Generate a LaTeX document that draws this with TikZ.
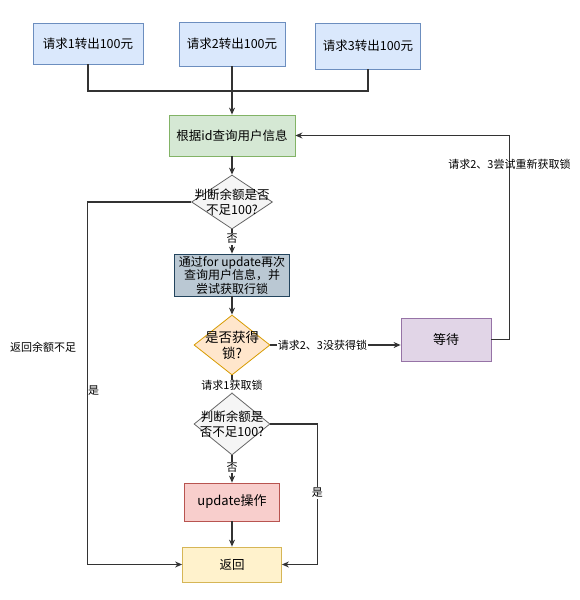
\documentclass[tikz,border=0pt]{standalone}
\usepackage{fontspec}
\setmainfont{Noto Sans CJK SC}
\usetikzlibrary{arrows.meta,shapes.geometric}
\definecolor{lineC}{HTML}{333333}
\tikzset{
  box/.style={draw=#1, line width=0.8pt, minimum height=40pt, inner sep=2pt, align=center, font=\fontsize{12.5}{14}\selectfont},
  dia/.style={diamond, draw=#1, line width=0.8pt, inner sep=0pt},
  dtext/.style={align=center, font=\fontsize{12.5}{15}\selectfont},
  conn/.style={draw=lineC, line width=1.1pt},
  arr/.style={conn, -{Stealth[length=7pt,width=6pt]}},
  lab/.style={font=\fontsize{11}{13}\selectfont, text=black, inner sep=1pt},
  wlab/.style={lab, fill=white},
}
\begin{document}
\begin{tikzpicture}[x=1pt,y=-1pt]
\useasboundingbox (0,0) rectangle (579,600);
% top request boxes
\node[box=blue, fill={rgb,255:red,218;green,232;blue,252}, draw={rgb,255:red,108;green,142;blue,191}, minimum width=110pt, minimum height=41pt] (b1) at (88,43.5) {请求1转出100元};
\node[box=blue, fill={rgb,255:red,218;green,232;blue,252}, draw={rgb,255:red,108;green,142;blue,191}, minimum width=106pt, minimum height=44pt] (b2) at (232,44) {请求2转出100元};
\node[box=blue, fill={rgb,255:red,218;green,232;blue,252}, draw={rgb,255:red,108;green,142;blue,191}, minimum width=105pt, minimum height=46pt] (b3) at (368,46) {请求3转出100元};
% green
\node[box=green, fill={rgb,255:red,213;green,232;blue,212}, draw={rgb,255:red,130;green,179;blue,102}, minimum width=126pt, minimum height=41pt] (q) at (232,135.5) {根据id查询用户信息};
% diamond 1
\node[dia=gray, fill={rgb,255:red,245;green,245;blue,245}, draw={rgb,255:red,102;green,102;blue,102}, minimum width=81pt, minimum height=54pt,
  label={[dtext]center:判断余额是否\\不足100?}] (d1) at (232,202) {};
% gray box
\node[box=gray, fill={rgb,255:red,186;green,200;blue,211}, draw={rgb,255:red,35;green,68;blue,93}, minimum width=115pt, minimum height=42pt, inner sep=0pt, font=\fontsize{12}{13.5}\selectfont] (fu) at (232,275) {通过for update再次\\查询用户信息，并\\尝试获取行锁};
% diamond 2
\node[dia=orange, fill={rgb,255:red,255;green,230;blue,204}, draw={rgb,255:red,215;green,155;blue,0}, minimum width=76pt, minimum height=60pt,
  label={[dtext, font=\fontsize{13.5}{16}\selectfont]center:是否获得\\锁?}] (d2) at (232,345) {};
% wait
\node[box=violet, fill={rgb,255:red,225;green,213;blue,231}, draw={rgb,255:red,150;green,115;blue,166}, minimum width=90pt, minimum height=43pt, font=\fontsize{13}{15}\selectfont] (w) at (446,339.5) {等待};
% diamond 3
\node[dia=gray, fill={rgb,255:red,245;green,245;blue,245}, draw={rgb,255:red,102;green,102;blue,102}, minimum width=76pt, minimum height=62pt,
  label={[dtext]center:判断余额是\\否不足100?}] (d3) at (232,424) {};
% update
\node[box=red, fill={rgb,255:red,248;green,206;blue,204}, draw={rgb,255:red,184;green,84;blue,80}, minimum width=95pt, minimum height=38pt, font=\fontsize{13}{15}\selectfont] (u) at (232,502) {update操作};
% return
\node[box=yellow, fill={rgb,255:red,255;green,242;blue,204}, draw={rgb,255:red,214;green,182;blue,86}, minimum width=99pt, minimum height=35pt] (r) at (232,564.5) {返回};

% connectors
\coordinate (j) at (232,91);
\draw[conn] (b1.south) |- (j);
\draw[conn] (b3.south) |- (j);
\draw[arr] (b2.south) -- (q.north);
\draw[arr] (q.south) -- (d1.north);
\draw[arr] (d1.south) -- node[wlab, pos=0.4] {否} (fu.north);
\draw[arr] (d1.west) -- ++(-103.5,0) |- node[lab, pos=0.2, anchor=east, xshift=-10pt] {返回余额不足} node[lab, pos=0.26, anchor=west, xshift=-1pt] {是} (r.west);
\draw[arr] (fu.south) -- (d2.north);
\draw[arr] (d2.east) -- node[wlab, pos=0.4] {请求2、3没获得锁} (w.west |- d2.east);
\draw[arr] (w.east) -- ++(18,0) |- node[lab, pos=0.43] {请求2、3尝试重新获取锁} (q.east);
\draw[arr] (d2.south) -- node[wlab, pos=0.6] {请求1获取锁} (d3.north);
\draw[arr] (d3.south) -- node[wlab, pos=0.45] {否} (u.north);
\draw[arr] (d3.east) -- ++(47,0) |- node[wlab, pos=0.245] {是} (r.east);
\draw[arr] (u.south) -- (r.north);
\end{tikzpicture}
\end{document}
